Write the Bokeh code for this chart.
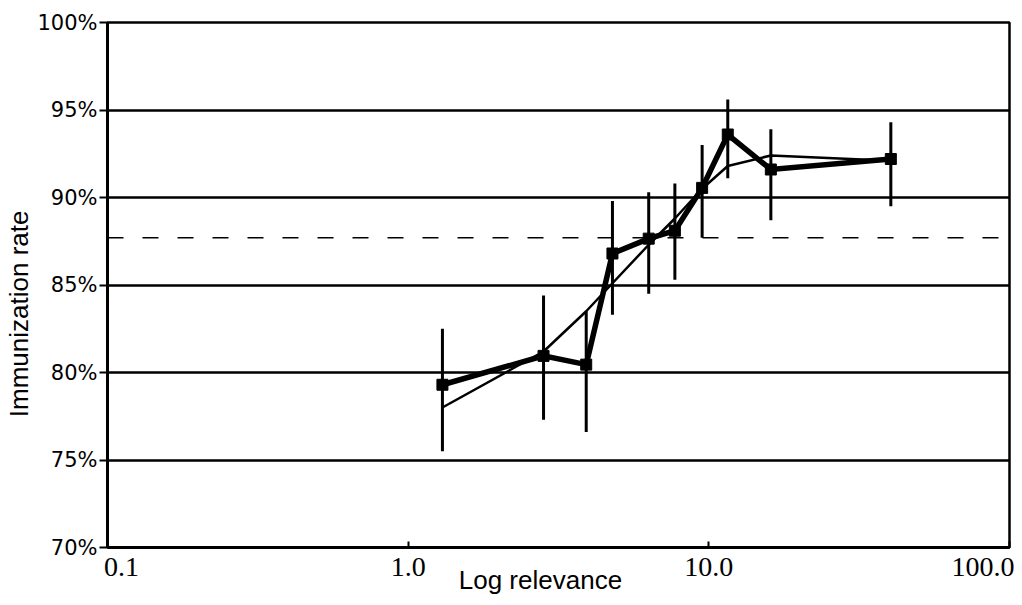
from bokeh.plotting import figure
from bokeh.models import Range1d, FixedTicker, Span
from bokeh.embed import file_html
from bokeh.resources import INLINE

# Data
relevance = [1.30, 2.82, 3.91, 4.78, 6.31, 7.71, 9.50, 11.56, 16.08, 40.3]
rate = [79.3, 80.95, 80.45, 86.8, 87.65, 88.1, 90.55, 93.6, 91.6, 92.2]
err_low = [75.5, 77.3, 76.6, 83.3, 84.5, 85.3, 87.7, 91.1, 88.7, 89.5]
err_high = [82.5, 84.4, 83.5, 89.8, 90.3, 90.8, 93.0, 95.6, 93.9, 94.3]
fitted = [78.0, 81.2, 83.5, 85.1, 87.3, 88.8, 90.5, 91.8, 92.4, 92.1]
mean_rate = 87.7

y_ticks = [70, 75, 80, 85, 90, 95, 100]
y_tick_labels = ["70%", "75%", "80%", "85%", "90%", "95%", "100%"]
x_ticks = [0.1, 1, 10, 100]
x_tick_labels = ["0.1", "1.0", "10.0", "100.0"]

NB = "\u00a0"

p = figure(width=1014, height=597, x_axis_type="log",
           x_range=Range1d(0.1, 100), y_range=Range1d(70, 100),
           output_backend="svg", toolbar_location=None,
           min_border_left=107, min_border_top=22, min_border_right=5,
           min_border_bottom=48, background_fill_color="white",
           border_fill_color="white")

p.outline_line_color = "black"
p.outline_line_width = 2.5

# grid
p.xgrid.visible = False
p.ygrid.ticker = FixedTicker(ticks=y_ticks)
p.ygrid.grid_line_color = "black"
p.ygrid.grid_line_width = 2.5
p.ygrid.grid_line_alpha = 1.0

# y axis
ya = p.yaxis[0]
ya.ticker = FixedTicker(ticks=y_ticks)
ya.major_label_overrides = {t: l for t, l in zip(y_ticks, y_tick_labels)}
ya.minor_tick_line_color = None
ya.major_tick_in = 0
ya.major_tick_out = 8
ya.major_tick_line_width = 2
ya.axis_line_width = 3
ya.major_label_text_font = "DejaVu Sans"
ya.major_label_text_font_size = "21px"
ya.major_label_text_color = "black"
ya.major_label_standoff = 2
ya.axis_label = "Immunization rate" + NB * 8
ya.axis_label_text_font = "Liberation Sans"
ya.axis_label_text_font_style = "normal"
ya.axis_label_text_font_size = "26px"
ya.axis_label_text_color = "black"
ya.axis_label_standoff = 0

# x axis
xa = p.xaxis[0]
xa.ticker = FixedTicker(ticks=x_ticks)
overr = dict(zip(x_ticks, x_tick_labels))
overr[0.1] = NB * 4 + "0.1"
xa.major_label_overrides = overr
xa.minor_tick_line_color = None
xa.major_tick_in = 6
xa.major_tick_out = 0
xa.major_tick_line_width = 2
xa.axis_line_width = 3
xa.major_label_text_font = "Liberation Serif"
xa.major_label_text_font_size = "28px"
xa.major_label_text_color = "black"
xa.major_label_standoff = 3
xa.axis_label = "Log relevance" + NB * 5
xa.axis_label_text_font = "Liberation Sans"
xa.axis_label_text_font_style = "normal"
xa.axis_label_text_font_size = "26px"
xa.axis_label_text_color = "black"
xa.axis_label_standoff = -20

# mean dashed line
p.add_layout(Span(location=mean_rate, dimension="width", line_color="black",
                  line_width=1.5, line_dash="16 19"))

# error bars
p.segment(x0=relevance, y0=err_low, x1=relevance, y1=err_high,
          line_color="black", line_width=3)

# fitted thin line
p.line(relevance, fitted, line_color="black", line_width=2.5)

# observed thick line with square markers
p.line(relevance, rate, line_color="black", line_width=5.5, line_join="miter")
p.scatter(relevance, rate, marker="square", size=11, color="black")

open("out.html", "w").write(file_html(p, INLINE))
